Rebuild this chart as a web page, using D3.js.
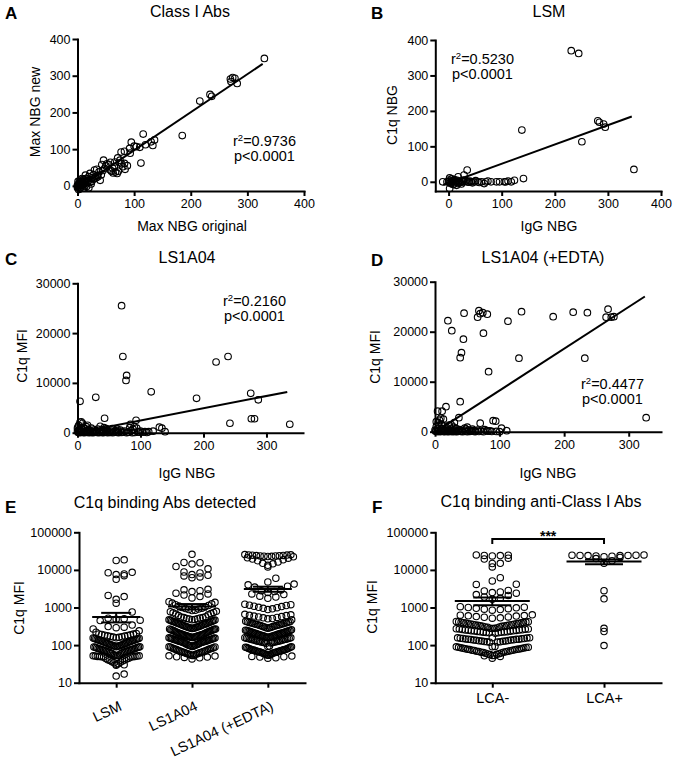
<!DOCTYPE html>
<html><head><meta charset="utf-8">
<script src="https://cdn.jsdelivr.net/npm/d3@7"></script>
<style>
body{margin:0;background:#fff}
svg{display:block}
text{font-family:"Liberation Sans",Arial,Helvetica,sans-serif;fill:#000}
</style>
</head><body>
<svg id="c" width="676" height="762"></svg>
<script>
// ---------------- DATA ----------------
// Panel A: Max NBG original vs Max NBG new
const classIPoints = [[330,347],[270,291],[274,295],[278,293],[271,284],[282,279],[216,231],[234,249],[237,244],[185,137],[116,141],[136,125],[133,110],[112,62],[95,119],[104,107],[92,102],[77,92],[83,94],[93,89],[71,76],[75,63],[83,61],[84,45],[46,70],[58,64],[65,52],[67,38],[70,34],[72,40],[58,43],[40,15],[34,45],[30,43],[22,34],[14,29],[55,58],[50,55],[62,48],[45,42],[38,38],[42,30],[35,28],[28,30],[26,22],[20,25],[18,18],[15,20],[12,15],[10,18],[8,12],[6,8],[5,5],[3,2],[2,0],[1,-3],[0,-5],[4,-8],[10,3],[14,8],[16,-2],[20,-5],[22,10],[25,12],[28,18],[30,20],[33,22],[36,25],[8,20],[5,15],[3,10],[2,5],[0,2],[7,0],[12,5],[18,10],[24,5],[1,12],[6,-3],[11,-6],[15,12],[19,14],[9,7],[4,3],[13,0],[0,0],[2,-10],[48,48],[52,60],[60,40],[63,35],[78,60],[80,52],[88,55],[43,58],[66,65],[75,70],[100,108],[120,112],[130,120],[110,105]];
const classIFit = {slope:1.037, intercept:-7, x0:0, x1:327, r2:"0.9736", p:"p<0.0001"};

// Panel B: LSM IgG NBG vs C1q NBG
const lsmPoints = [[231,370],[245,362],[138,146],[281,172],[284,168],[292,163],[295,154],[251,113],[349,35],[141,9],[124,4],[118,0],[105,0],[96,0],[90,0],[74,2],[67,-5],[62,0],[55,0],[43,0],[36,0],[30,0],[35,33],[29,19],[18,14],[2,11],[-11,0],[2,-19],[18,-5],[0,0],[3,2],[5,-2],[8,0],[10,3],[12,-3],[14,0],[16,4],[20,0],[22,-2],[25,2],[27,0],[33,3],[38,-1],[40,2],[48,0],[51,3],[58,-2],[70,0],[80,0],[108,0],[112,2],[1,5],[6,8],[9,-8],[15,-10],[24,-6],[4,-5],[11,6],[-3,0],[7,2],[19,2],[28,5],[45,-3]];
const lsmFit = {slope:0.544, intercept:-3.6, x0:-10, x1:345, r2:"0.5230", p:"p<0.0001"};

// Panel C: LS1A04 IgG NBG vs C1q MFI
const ls1a04Points = [[70,25500],[72,15300],[78,11500],[77,10500],[117,8200],[29,7100],[4,6300],[43,2900],[93,2500],[189,6900],[220,14200],[239,15300],[275,7900],[287,6600],[242,1900],[276,2800],[281,2800],[337,1700],[134,900],[139,200],[107,200],[113,200],[83,1000],[94,900],[4,2100],[6,2200],[8,1900],[2,1500],[0,900],[3,500],[5,300],[7,700],[10,200],[12,800],[14,1200],[15,400],[17,100],[18,600],[20,300],[22,900],[24,200],[26,500],[28,100],[30,400],[32,700],[35,150],[38,300],[40,600],[42,1000],[45,200],[47,500],[50,100],[53,300],[55,800],[58,150],[60,400],[63,200],[66,100],[68,500],[72,150],[75,300],[80,100],[85,400],[88,700],[90,1200],[96,150],[100,300],[104,100],[1,100],[2,50],[4,0],[6,100],[9,50],[11,0],[13,300],[16,50],[19,0],[21,100],[23,50],[25,0],[27,200],[31,50],[34,0],[36,100],[39,50],[41,0],[44,100],[48,0],[52,50],[56,0],[61,100],[65,0],[70,50],[78,0],[82,100],[87,0],[91,50],[98,100],[110,50],[0,300],[3,700],[1,1200],[9,1000],[16,1500],[36,1300],[46,800],[63,700],[84,1700],[120,300],[130,1100]];
const ls1a04Fit = {slope:24.6, intercept:0, x0:0, x1:333, r2:"0.2160", p:"p<0.0001"};

// Panel D: LS1A04 (+EDTA) IgG NBG vs C1q MFI
const edtaPoints = [[268,24500],[273,22900],[277,23000],[265,22900],[236,23800],[214,23900],[183,23000],[134,24000],[113,22100],[81,23500],[74,23800],[68,24200],[66,22900],[70,23600],[45,23700],[20,22200],[26,20200],[75,19700],[44,18500],[41,15800],[39,14800],[83,12000],[130,14700],[232,14700],[327,2800],[39,6000],[17,5000],[4,4100],[11,4100],[9,2700],[37,2800],[70,1700],[90,2200],[94,2100],[103,700],[111,200],[80,200],[50,900],[48,500],[2,1000],[5,1800],[7,2300],[10,1500],[12,600],[14,1100],[16,300],[18,800],[20,200],[22,1300],[24,500],[27,100],[29,900],[31,300],[33,600],[35,150],[38,400],[42,200],[46,700],[52,300],[55,100],[58,500],[60,200],[63,100],[66,300],[72,100],[77,400],[85,150],[88,50],[0,300],[1,100],[3,0],[4,500],[6,200],[8,0],[9,100],[11,300],[13,50],[15,0],[17,150],[19,50],[21,0],[23,200],[25,50],[28,0],[30,100],[32,50],[34,0],[36,100],[40,50],[43,0],[47,100],[50,0],[54,50],[57,200],[62,0],[68,50],[75,0],[82,100],[95,50],[100,0],[2,2000],[6,1300],[13,2500],[25,1400],[30,1800]];
const edtaFit = {slope:83.5, intercept:-100, x0:0, x1:325, r2:"0.4477", p:"p<0.0001"};

// Panel E: C1q MFI per assay
const assayCategories = ["LSM","LS1A04","LS1A04 (+EDTA)"];
const lsmMFI = [18500,17800,8600,7800,5600,7000,7500,8400,2100,1950,1650,1300,760,520,490,460,450,500,340,310,290,270,240,220,300,205,196,188,180,174,167,161,155,150,192,170,146,140,135,131,127,123,119,115,111,138,129,117,108,104,100,97,94,91,88,86,102,95,90,84,81,79,77,75,73,71,70,80,76,72,68,66,64,62,60,58,65,61,55,54,53,52,51,50,50,49,49,48,48,50,51,53,54,52,45,43,41,40,38,36,34,32,30,29,31,35,39,44,17,15,
  198,183,176,163,158,152,147,143,137,133,125,121,113,109,106,99,96,93,89,87,83,78,74,69,67];
const ls1a04MFI = [26000,15800,12300,14300,15500,10700,8800,7500,6900,6200,6500,7200,8300,3050,2800,2400,2150,1800,1950,2300,2650,2950,1420,1310,1190,1090,1040,1000,1130,1250,1370,960,910,840,790,740,690,640,610,670,720,770,830,880,940,570,540,505,475,455,430,415,395,375,360,348,365,385,405,425,448,470,495,525,555,335,322,308,297,286,275,262,252,243,232,221,212,206,218,227,238,248,257,268,280,291,302,314,327,202,196,189,184,177,171,166,161,156,151,146,141,136,131,127,123,119,116,118,121,125,129,134,139,144,149,154,159,164,169,174,180,186,192,199,112,106,101,97,93,89,85,81,78,74,71,69,67,65,63,61,59,57,55,53,51,49,46,43,48,52,56,60,64,68,72,76,80,84,88,92,96,100,104,109,
  540,512,482,462,438,418,398,378,362,352,330,316,300,284,270,256,240,226,214,198,190,182,175,167,160,152,146,138,130,124,117,107,98,90,83,77,70,64,58,53,47];
const edtaMFI = [25500,25000,24600,24200,23800,23500,23200,23000,22700,24000,24800,25200,22400,23600,21000,19500,17500,15000,13200,14500,16200,18500,20500,12000,6000,4800,4000,3700,4200,3500,2900,2650,2300,2000,1750,1900,2200,2500,2800,1220,1150,1080,1010,950,880,920,990,1060,1130,1190,660,620,590,560,530,500,470,510,545,575,610,640,430,410,395,380,362,348,335,320,305,290,282,298,312,328,342,356,372,388,402,420,255,246,238,229,221,213,206,199,192,186,180,174,168,162,156,151,146,141,136,131,127,123,119,115,112,117,121,125,129,133,138,143,148,153,159,165,171,177,183,189,196,203,210,217,225,233,242,250,92,88,84,80,77,75,73,71,69,67,65,63,60,57,54,51,48,45,50,55,59,62,64,66,68,70,72,74,76,78,82,86,90,
  415,392,370,350,330,310,290,245,232,219,207,196,185,175,166,157,149,141,134,127,120,114,94,87,81,75,70,66,62,58,54,49,46];
const assayMeans = [560, 1060, 3100];
const assaySEM = [160, 175, 480];

// Panel F: C1q MFI by LCA
const lcaCategories = ["LCA-","LCA+"];
const lcaNegMFI = [24500,24000,23500,24200,25000,20500,19500,15000,12000,14800,6200,4100,4150,5100,2850,2600,2400,2100,1900,1750,1650,2200,2500,2750,1050,1000,950,900,850,880,930,980,1020,640,610,590,560,530,520,550,575,600,625,425,410,398,385,372,360,348,336,325,315,305,300,318,330,342,354,366,378,392,405,418,285,276,268,260,252,245,238,231,224,218,212,208,215,221,228,235,242,249,256,264,272,281,158,154,150,146,142,138,134,130,126,122,119,120,124,128,132,136,140,144,148,152,156,92,88,85,82,79,77,75,73,71,69,67,65,62,59,56,53,50,45,52,58,64,68,72,76,80,84,87,90,
  420,395,370,345,322,303,280,266,252,239,226,214,157,150,143,136,129,122,91,86,81,77,73,69,65,61,57,53];
const lcaPosMFI = [24500,24000,24200,23600,22500,20000,17500,15000,21500,23200,24000,24300,24600,25000,2800,1700,280,230,97];
const lcaMeans = [1500, 16600];
const lcaSEM = [350, 2400];
const lcaSignificance = "***";

const linearTicks400 = [0,100,200,300,400];
const linearTicks300 = [0,100,200,300];
const mfiTicks = [0,10000,20000,30000];
const logTicks = [10,100,1000,10000,100000];

// ---------------- DRAWING ----------------
const svg = d3.select("#c");
const FONT = '"Liberation Sans",Arial,Helvetica,sans-serif';

function styleAxis(g){
  g.select(".domain").attr("stroke","#000").attr("stroke-width",2).attr("stroke-linecap","square");
  g.selectAll(".tick line").attr("stroke","#000").attr("stroke-width",2);
  g.selectAll(".tick text").attr("font-size",12.5).attr("font-family",FONT).attr("fill","#000");
}

function labels(o){
  svg.append("text").attr("x",o.letter[0]).attr("y",o.letter[1]).attr("font-size",17).attr("font-weight","bold").text(o.L);
  svg.append("text").attr("x",o.title[0]).attr("y",o.title[1]).attr("font-size",16).attr("text-anchor","middle").text(o.T);
  if(o.xl) svg.append("text").attr("x",o.xl[0]).attr("y",o.xl[1]).attr("font-size",14).attr("text-anchor","middle").text(o.XL);
  svg.append("text").attr("transform",`translate(${o.yl[0]},${o.yl[1]}) rotate(-90)`).attr("font-size",14).attr("text-anchor","middle").text(o.YL);
}

function scatterPanel(o){
  const x = d3.scaleLinear().domain(o.xd).range(o.xr);
  const y = d3.scaleLinear().domain(o.yd).range(o.yr);
  const g = svg.append("g");
  g.append("g").attr("transform",`translate(0,${o.yr[0]})`)
    .call(d3.axisBottom(x).tickValues(o.xt).tickFormat(d3.format("d")).tickSize(5).tickSizeOuter(0).tickPadding(3)).call(styleAxis);
  g.append("g").attr("transform",`translate(${o.xr[0]},0)`)
    .call(d3.axisLeft(y).tickValues(o.yt).tickFormat(d3.format("d")).tickSize(5).tickSizeOuter(0).tickPadding(2)).call(styleAxis);
  g.append("g").selectAll("circle").data(o.pts).join("circle")
    .attr("cx",d=>x(d[0])).attr("cy",d=>y(d[1])).attr("r",3.3)
    .attr("fill","none").attr("stroke","#000").attr("stroke-width",1.1);
  const f = o.fit;
  g.append("line").attr("x1",x(f.x0)).attr("y1",y(f.slope*f.x0+f.intercept))
    .attr("x2",x(f.x1)).attr("y2",y(f.slope*f.x1+f.intercept))
    .attr("stroke","#000").attr("stroke-width",2);
  const t = g.append("text").attr("x",o.stat[0]).attr("y",o.stat[1]).attr("font-size",14.5);
  t.append("tspan").text("r");
  t.append("tspan").attr("dy",-5).attr("font-size",9.5).text("2");
  t.append("tspan").attr("dy",5).text("="+f.r2);
  g.append("text").attr("x",o.stat[0]+1).attr("y",o.stat[1]+15).attr("font-size",14.5).text(f.p);
  labels(o);
}

function swarm(values, cx, yScale, h, maxW, maxStep){
  const bottom = yScale.range()[0];
  const pts = values.map(v=>({v, y:yScale(v)}));
  const bins = d3.group(pts, p=>Math.floor((bottom - p.y)/h));
  for(const arr of bins.values()){
    arr.sort((a,b)=>a.v-b.v);
    const n = arr.length;
    const step = n>1 ? Math.min(maxStep, maxW/(n-1)) : 0;
    arr.forEach((p,i)=>{
      const k = Math.ceil(i/2);
      const s = i%2===1 ? 1 : -1;
      p.x = cx + (i===0 ? 0 : s*k*step);
    });
  }
  return pts;
}

function swarmPanel(o){
  const y = d3.scaleLog().domain([10,100000]).range([682.7,532.3]);
  const x = d3.scalePoint().domain(o.cats).range(o.xr).padding(o.pad);
  const g = svg.append("g");
  const xa = g.append("g").attr("transform",`translate(0,${y.range()[0]})`)
    .call(d3.axisBottom(x).tickSize(5).tickSizeOuter(0).tickPadding(3)).call(styleAxis);
  g.append("g").attr("transform",`translate(${o.xr[0]},0)`)
    .call(d3.axisLeft(y).tickValues(logTicks).tickFormat(d3.format("d")).tickSize(5).tickSizeOuter(0).tickPadding(2)).call(styleAxis);
  if(o.rotate){
    xa.selectAll(".tick text").attr("text-anchor","end").attr("font-size",14.5)
      .attr("y",0).attr("dy",0)
      .attr("transform","translate(6,27) rotate(-25)");
  } else {
    xa.selectAll(".tick text").attr("font-size",14.5).attr("y",10).attr("dy","0.71em");
  }
  o.cats.forEach((c,i)=>{
    const cx = x(c);
    const pts = swarm(o.vals[i], cx, y, 9, o.maxW, 8);
    g.append("g").selectAll("circle").data(pts).join("circle")
      .attr("cx",d=>d.x).attr("cy",d=>d.y).attr("r",3.2)
      .attr("fill","none").attr("stroke","#000").attr("stroke-width",1.1);
    const m = o.means[i], s = o.sem[i];
    g.append("line").attr("x1",cx-o.mw/2).attr("x2",cx+o.mw/2).attr("y1",y(m)).attr("y2",y(m)).attr("stroke","#000").attr("stroke-width",2);
    g.append("line").attr("x1",cx).attr("x2",cx).attr("y1",y(m-s)).attr("y2",y(m+s)).attr("stroke","#000").attr("stroke-width",2);
    [m-s,m+s].forEach(v=>g.append("line").attr("x1",cx-o.cw/2).attr("x2",cx+o.cw/2).attr("y1",y(v)).attr("y2",y(v)).attr("stroke","#000").attr("stroke-width",2));
  });
  if(o.sig){
    const x1 = x(o.cats[0]), x2 = x(o.cats[1]);
    g.append("path").attr("d",`M${x1},544V539H${x2}V544`).attr("fill","none").attr("stroke","#000").attr("stroke-width",2);
    g.append("text").attr("x",(x1+x2)/2).attr("y",541).attr("text-anchor","middle").attr("font-size",14).attr("font-weight","bold").text(o.sig);
  }
  labels(o);
}

scatterPanel({xd:[0,400],xr:[77.5,304],yd:[-14,400],yr:[191,39],xt:linearTicks400,yt:linearTicks400,
  pts:classIPoints,fit:classIFit,stat:[233,145.5],
  L:"A",letter:[5,19],T:"Class I Abs",title:[190,17],XL:"Max NBG original",xl:[192,231],YL:"Max NBG new",yl:[39.5,112]});
scatterPanel({xd:[-25,400],xr:[435.3,661],yd:[-26,400],yr:[191,40],xt:linearTicks400,yt:linearTicks400,
  pts:lsmPoints,fit:lsmFit,stat:[451,64],
  L:"B",letter:[371,19],T:"LSM",title:[549,17],XL:"IgG NBG",xl:[549,231],YL:"C1q NBG",yl:[397,115]});
scatterPanel({xd:[0,358],xr:[77.5,303],yd:[0,30000],yr:[432.7,283.3],xt:linearTicks300,yt:mfiTicks,
  pts:ls1a04Points,fit:ls1a04Fit,stat:[223,306],
  L:"C",letter:[5,265],T:"LS1A04",title:[187,263],XL:"IgG NBG",xl:[187,478],YL:"C1q MFI",yl:[27,356]});
scatterPanel({xd:[0,350],xr:[435,661],yd:[0,30000],yr:[431.7,281.7],xt:linearTicks300,yt:mfiTicks,
  pts:edtaPoints,fit:edtaFit,stat:[581,388.5],
  L:"D",letter:[371,266],T:"LS1A04 (+EDTA)",title:[543,263],XL:"IgG NBG",xl:[548,478],YL:"C1q MFI",yl:[380,357]});
swarmPanel({cats:assayCategories,xr:[79,305],pad:0.49,vals:[lsmMFI,ls1a04MFI,edtaMFI],means:assayMeans,sem:assaySEM,
  maxW:46,mw:48,cw:30,rotate:true,
  L:"E",letter:[5,513],T:"C1q binding Abs detected",title:[165,508],YL:"C1q MFI",yl:[24,608]});
swarmPanel({cats:lcaCategories,xr:[435.3,661],pad:0.51,vals:[lcaNegMFI,lcaPosMFI],means:lcaMeans,sem:lcaSEM,
  maxW:72,mw:75,cw:38,rotate:false,sig:lcaSignificance,
  L:"F",letter:[372,513],T:"C1q binding anti-Class I Abs",title:[541,507],YL:"C1q MFI",yl:[377,607]});
</script>
</body></html>
